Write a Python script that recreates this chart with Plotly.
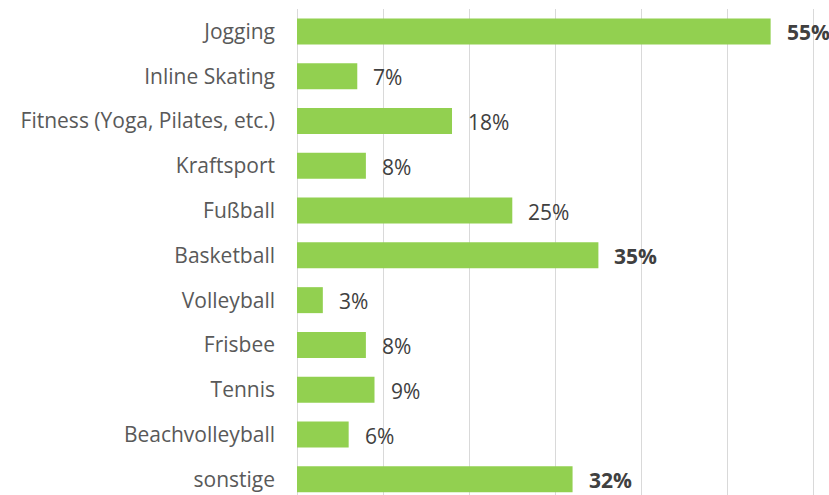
import plotly.graph_objects as go

categories = ['Jogging', 'Inline Skating', 'Fitness (Yoga, Pilates, etc.)', 'Kraftsport',
              'Fußball', 'Basketball', 'Volleyball', 'Frisbee', 'Tennis',
              'Beachvolleyball', 'sonstige']
values = [0.55, 0.07, 0.18, 0.08, 0.25, 0.35, 0.03, 0.08, 0.09, 0.06, 0.32]
bold = [True, False, False, False, False, True, False, False, False, False, True]

fig = go.Figure()
fig.add_trace(go.Bar(
    x=values, y=categories, orientation='h',
    marker=dict(color='#92D050', line=dict(width=0)),
    hoverinfo='skip',
))

for cat, val, b in zip(categories, values, bold):
    txt = f'{val:.0%}'
    if b:
        txt = '<b>' + txt + '</b>'
    fig.add_annotation(x=val, y=cat, text=txt, showarrow=False,
                       xanchor='left', xshift=14, yshift=-1,
                       font=dict(size=21, color='#404040'))

fig.update_layout(
    width=829, height=495,
    margin=dict(l=297, r=11, t=9, b=0),
    paper_bgcolor='white', plot_bgcolor='white',
    font=dict(family='Open Sans', size=21, color='#595959'),
    bargap=0.42,
    showlegend=False,
    xaxis=dict(range=[0, 0.605], tickvals=[0.1, 0.2, 0.3, 0.4, 0.5, 0.6],
               showgrid=True, gridcolor='#d9d9d9',
               gridwidth=1, showticklabels=False, zeroline=True,
               zerolinecolor='#d9d9d9', zerolinewidth=1),
    yaxis=dict(range=[10.35, -0.5], showgrid=False, ticks='',
               ticklabelstandoff=21),
)

# page body has an 8px default margin, remove it so the chart sits at 0,0
fig.write_html('out.html', config={'displayModeBar': False},
               post_script="document.body.style.margin='0';")
